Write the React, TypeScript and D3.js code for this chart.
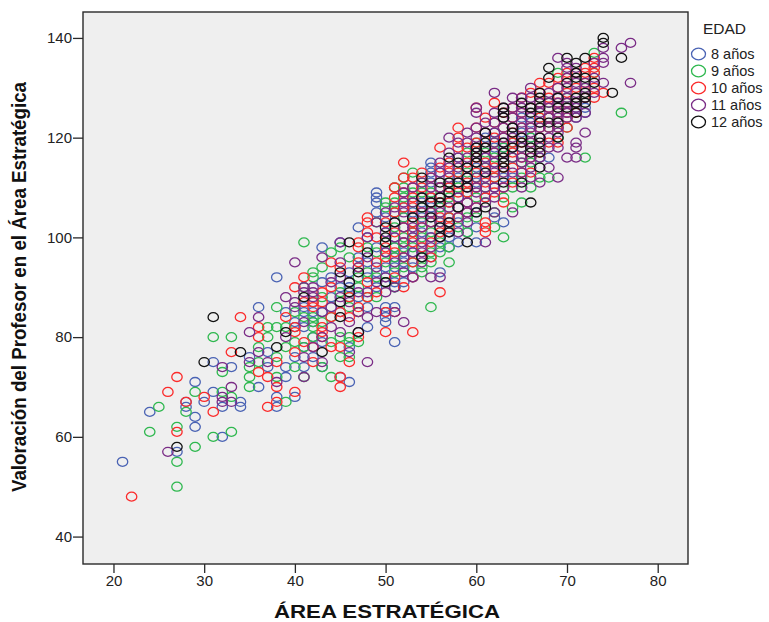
import { useEffect, useRef } from 'react';
import * as d3 from 'd3';

type Column = [number, number[]];

// each row: ÁREA ESTRATÉGICA value, then the Valoración values read at that column
const edad8: Column[] = [
  [21, [55]], [24, [65]], [27, [57]], [28, [66, 67]], [29, [71, 64, 62]], [30, [67]], [31, [75, 69]],
  [32, [66, 60]], [33, [74]], [34, [67, 66]], [35, [76]], [36, [86, 70]], [37, [77, 74]],
  [38, [92, 68, 66]], [39, [85, 74, 72]], [40, [83, 82, 76, 68]], [41, [86, 85, 82, 78, 74]],
  [42, [87, 85, 83, 80, 76]], [43, [98, 91, 85, 79, 74]], [44, [92, 88, 86]], [45, [99, 90, 85, 72]],
  [46, [93, 90, 78, 71]], [47, [102, 96, 88]], [48, [100, 95, 92, 86, 82]],
  [49, [109, 108, 107, 105, 98, 93, 90]], [50, [104, 101, 97, 94, 92, 86, 85, 84, 83]],
  [51, [100, 98, 96, 94, 91, 90, 86, 79]], [52, [106, 104, 102, 99, 97, 95, 93, 91]],
  [53, [105, 103, 101, 100, 97, 94, 92]], [54, [107, 104, 101, 98, 96]],
  [55, [115, 114, 113, 111, 108, 106, 104, 100, 96]], [56, [113, 110, 106, 102, 98, 93]],
  [57, [110, 107, 104, 100, 98]], [58, [116, 112, 108, 103, 99]], [59, [112, 107, 105, 101]],
  [60, [118, 114, 111, 105, 102, 99]], [61, [120, 116, 113, 108]], [62, [121, 118, 115, 110, 104]],
  [63, [122, 118, 112, 103]], [64, [122, 119, 116, 112]], [65, [124, 121, 118]], [66, [123, 120]],
  [67, [127, 116]], [68, [124, 116]], [69, [128, 122]], [70, [127, 125]],
  [71, [126, 124]], [72, [126, 125]],
];

const edad9: Column[] = [
  [24, [61]], [25, [66]], [27, [62, 55, 50]], [28, [65]], [29, [69, 58]], [31, [80, 60]], [32, [73, 69]],
  [33, [80, 68, 61]], [35, [74, 72, 70]], [36, [78, 75]], [37, [82, 80]], [38, [86, 82, 76, 72]],
  [39, [82, 78, 67]], [40, [85, 79, 74]], [41, [99, 90, 84, 78, 72]], [42, [93, 92, 84, 83, 82, 80]],
  [43, [94, 88, 83, 74]], [44, [97, 84, 79, 72]], [45, [98, 89, 80, 76]], [46, [96, 88, 86, 80, 79, 76]],
  [47, [92, 90, 85, 79]], [48, [98, 93, 88]], [49, [103, 97, 92, 88]], [50, [107, 106, 99, 95, 91]],
  [51, [110, 107, 105, 102, 98, 96, 93, 90]], [52, [112, 110, 108, 104, 100, 98, 96, 94]],
  [53, [113, 109, 107, 104, 101, 98, 95]], [54, [111, 109, 106, 103, 100, 96, 94, 93]],
  [55, [109, 105, 101, 97, 95, 86]], [56, [110, 106, 103, 99, 97]], [57, [111, 108, 104, 101, 98, 95]],
  [58, [113, 110, 106, 102]], [59, [117, 113, 109, 104, 101]], [60, [119, 115, 112, 108, 104]],
  [61, [117, 114, 110, 107]], [62, [119, 116, 112, 105, 102]], [63, [118, 114, 108, 100]],
  [64, [122, 119, 116, 110, 106]], [65, [118, 115, 112, 107]], [66, [122, 120, 115, 110]],
  [67, [124, 118, 112]], [68, [127, 124, 122, 112]], [69, [133, 125, 120]], [70, [128, 122]],
  [72, [130, 116]], [73, [137, 133]], [76, [125]],
];

const edad10: Column[] = [
  [22, [48]], [26, [69]], [27, [72, 61]], [28, [67]], [30, [68]], [31, [65]], [33, [77]], [34, [84]],
  [36, [82, 80, 73]], [37, [72, 66]], [38, [75, 70, 67]], [39, [84]], [40, [90, 82, 81, 77, 69]],
  [41, [92, 87, 79]], [42, [87, 86, 78, 75]], [43, [89, 87, 82, 81, 80]], [44, [95, 90, 84, 78]],
  [45, [94, 85, 78, 72, 70]], [46, [88, 84, 75]], [47, [99, 98, 95, 94, 86, 85, 80]],
  [48, [104, 103, 101, 91, 88]], [49, [100, 95, 89]], [50, [103, 98, 96, 85, 81]],
  [51, [110, 108, 105, 101, 97, 92, 85]], [52, [115, 112, 109, 106, 102, 99, 96, 90]],
  [53, [112, 110, 108, 106, 103, 101, 99, 95, 92, 81]], [54, [113, 110, 105, 102, 98]],
  [55, [112, 108, 105, 103, 99, 96]], [56, [118, 114, 110, 107, 104, 101, 89]],
  [57, [115, 113, 110, 107, 104, 102]], [58, [122, 120, 118, 113, 109, 104]],
  [59, [118, 115, 111, 109, 107, 105]], [60, [126, 122, 119, 116, 113, 110, 106]],
  [61, [124, 121, 118, 115, 111, 108, 103, 102, 101]], [62, [127, 123, 120, 117, 114, 112, 109]],
  [63, [125, 122, 120, 117, 114, 110, 107]], [64, [126, 124, 121, 119, 117, 114, 111]],
  [65, [128, 125, 122, 119, 116, 113]], [66, [129, 126, 122, 119, 116, 113]],
  [67, [131, 129, 127, 124, 122, 120, 117]], [68, [131, 128, 126, 124, 122, 119]],
  [69, [132, 130, 127, 125, 122, 119]], [70, [133, 132, 129, 127, 125, 124, 122]],
  [71, [133, 130, 127, 125]], [72, [134, 133, 131, 128]], [73, [136, 135, 134, 133, 130, 128]],
  [74, [129]],
];

const edad11: Column[] = [
  [26, [57]], [32, [74, 68, 67]], [33, [70, 67]], [35, [81, 75]], [36, [84, 77]], [37, [75]], [38, [71]],
  [39, [88, 80]], [40, [95, 87, 86]], [41, [90, 89, 83, 76, 72]], [42, [90, 89, 88, 78]], [43, [96, 85, 80, 75]],
  [44, [91, 86, 82]], [45, [99, 95, 92, 88, 81]], [46, [91, 87, 83, 77]], [47, [94, 89, 85, 81]],
  [48, [100, 96, 89, 84, 75]], [49, [103, 94, 91, 85]], [50, [105, 101, 97, 92, 89]],
  [51, [106, 103, 100, 95, 90, 85]], [52, [109, 107, 105, 102, 99, 96, 93, 83]],
  [53, [110, 107, 104, 102, 100, 97, 92]], [54, [111, 108, 105, 102, 99, 97, 95]],
  [55, [112, 110, 107, 105, 103, 100, 98, 92]], [56, [115, 113, 110, 108, 105, 103, 100, 92]],
  [57, [120, 117, 114, 112, 109, 106, 103, 101]], [58, [119, 116, 114, 111, 108, 106, 104, 101]],
  [59, [121, 119, 116, 114, 112, 110, 107, 105, 103]],
  [60, [126, 125, 122, 120, 118, 117, 115, 112, 110, 109, 106]],
  [61, [123, 121, 118, 116, 114, 112, 110, 107, 99]],
  [62, [129, 125, 123, 121, 119, 117, 115, 113, 110, 108, 105]],
  [63, [126, 124, 122, 120, 119, 117, 115, 113, 110]],
  [64, [128, 126, 124, 122, 120, 118, 116, 113, 105]],
  [65, [128, 126, 125, 123, 122, 120, 118, 116, 115, 113, 110]],
  [66, [130, 128, 126, 124, 122, 121, 119, 116, 114, 112]],
  [67, [127, 125, 123, 122, 120, 118, 116, 111]], [68, [129, 127, 126, 124, 122, 120, 118, 114]],
  [69, [136, 130, 128, 127, 125, 124, 122, 121, 118, 112]], [70, [135, 134, 132, 130, 128, 127, 125, 124, 116]],
  [71, [134, 133, 131, 129, 127, 126, 124, 119, 118, 116]], [72, [131, 130, 128, 125, 121]],
  [73, [135, 132, 129]], [74, [138, 136, 135, 131]], [76, [138]], [77, [139, 131]],
];

const edad12: Column[] = [
  [27, [58]], [30, [75]], [31, [84]], [34, [77]], [38, [78]], [39, [81]], [41, [88]], [43, [77]],
  [45, [93, 87, 84]], [46, [99, 91, 89]], [47, [93, 81]], [48, [97]], [50, [102, 100, 99, 91]], [51, [103]],
  [53, [104]], [54, [112, 108, 106, 96]], [55, [107, 104]], [56, [111, 108, 107, 102, 100]],
  [57, [116, 111, 109, 103, 101]], [58, [115, 111, 106]], [59, [114, 112, 110, 99]],
  [60, [118, 117, 116, 115, 105]], [61, [121, 119, 118, 113, 106]], [63, [126, 125, 124, 119, 117, 116, 115, 114, 111]],
  [64, [122, 121, 118]], [65, [127, 120, 119, 111]], [66, [126, 125, 118, 117, 107]],
  [67, [129, 128, 126, 123, 120, 119, 117, 114]], [68, [134, 132, 123]], [69, [128, 126, 123, 120]],
  [70, [136, 131, 126]], [71, [135, 133, 132, 128, 127, 125]], [72, [136, 132, 129, 128, 127]], [73, [131]],
  [74, [140, 139]], [75, [129]], [76, [136]],
];

const seriesNames = ['8 años', '9 años', '10 años', '11 años', '12 años'];
const seriesData = [edad8, edad9, edad10, edad11, edad12];
const seriesColors = ['#4a63b4', '#2fb84f', '#fb2b2b', '#7a2c86', '#111111'];
const xTicks = [20, 30, 40, 50, 60, 70, 80];
const yTicks = [40, 60, 80, 100, 120, 140];

const App = () => {
  const ref = useRef<SVGSVGElement>(null);

  useEffect(() => {
    const left = 83, right = 688, top = 12, bottom = 564;
    const svg = d3.select(ref.current);
    svg.selectAll('*').remove();

    const x = d3.scaleLinear().domain([16.64, 83.34]).range([left, right]);
    const y = d3.scaleLinear().domain([34.5, 145.2]).range([bottom, top]);

    svg.append('rect')
       .attr('x', left).attr('y', top)
       .attr('width', right - left).attr('height', bottom - top)
       .attr('fill', '#efefef')
       .attr('stroke', '#2a2a2a')
       .attr('stroke-width', 1.4);

    const xAxis = svg.append('g')
       .attr('transform', `translate(0,${bottom})`)
       .call(d3.axisBottom(x).tickValues(xTicks).tickSize(9).tickSizeOuter(0));
    const yAxis = svg.append('g')
       .attr('transform', `translate(${left},0)`)
       .call(d3.axisLeft(y).tickValues(yTicks).tickSize(10).tickSizeOuter(0));

    [xAxis, yAxis].forEach(axis => {
      axis.select('.domain').remove();
      axis.selectAll('line').attr('stroke', '#2a2a2a').attr('stroke-width', 1.3);
      axis.selectAll('text')
          .attr('fill', '#222')
          .style('font-family', '"Liberation Sans", Arial, sans-serif')
          .style('font-size', '15px');
    });
    xAxis.selectAll('text').attr('y', 11);
    yAxis.selectAll('text').attr('x', -11);

    // puntos, una capa por edad
    seriesData.forEach((cols, i) => {
      const points = cols.flatMap(([vx, ys]) => ys.map(vy => [vx, vy]));
      svg.append('g')
         .selectAll('ellipse')
         .data(points)
         .join('ellipse')
         .attr('cx', d => x(d[0]))
         .attr('cy', d => y(d[1]))
         .attr('rx', 5.2)
         .attr('ry', 4.5)
         .attr('fill', 'none')
         .attr('stroke', seriesColors[i])
         .attr('stroke-width', 1.3);
    });

    // leyenda
    const legend = svg.append('g').style('font-family', '"Liberation Sans", Arial, sans-serif');
    legend.append('text')
          .attr('x', 703).attr('y', 34)
          .attr('fill', '#222')
          .style('font-size', '15.5px')
          .text('EDAD');
    const legendY = d3.scalePoint().domain(seriesNames).range([54, 122]);
    seriesNames.forEach((name, i) => {
      legend.append('ellipse')
            .attr('cx', 698.5).attr('cy', legendY(name)!)
            .attr('rx', 7).attr('ry', 5.8)
            .attr('fill', 'none')
            .attr('stroke', seriesColors[i])
            .attr('stroke-width', 1.3);
      legend.append('text')
            .attr('x', 711).attr('y', legendY(name)! + 5)
            .attr('fill', '#222')
            .style('font-size', '14.5px')
            .text(name);
    });

    // titulos de los ejes
    svg.append('text')
       .attr('x', 387).attr('y', 618)
       .attr('text-anchor', 'middle')
       .attr('textLength', 226)
       .attr('lengthAdjust', 'spacingAndGlyphs')
       .attr('fill', '#111')
       .style('font-family', '"Liberation Sans", Arial, sans-serif')
       .style('font-weight', 'bold')
       .style('font-size', '18px')
       .text('ÁREA ESTRATÉGICA');
    svg.append('text')
       .attr('transform', 'translate(26,287) rotate(-90)')
       .attr('text-anchor', 'middle')
       .attr('textLength', 410)
       .attr('lengthAdjust', 'spacingAndGlyphs')
       .attr('fill', '#111')
       .style('font-family', '"Liberation Sans", Arial, sans-serif')
       .style('font-weight', 'bold')
       .style('font-size', '20px')
       .text('Valoración del Profesor en el Área Estratégica');
  }, []);

  return <svg ref={ref} width={769} height={622} style={{ position: 'fixed', left: 0, top: 0, background: '#fff' }} />;
};

export default App;
